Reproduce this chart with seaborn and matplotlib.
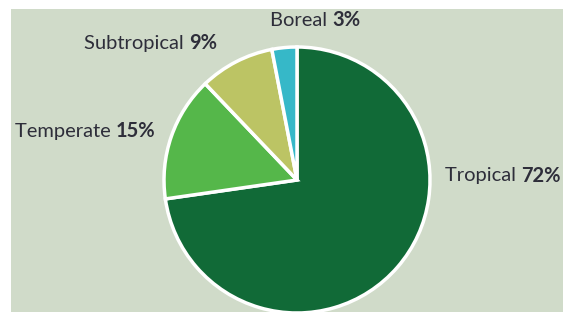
import matplotlib
matplotlib.use("Agg")
import matplotlib.pyplot as plt
import seaborn as sns
from matplotlib.patches import Rectangle

categories = ["Tropical", "Temperate", "Subtropical", "Boreal"]
values = [72, 15, 9, 3]
value_labels = ["72%", "15%", "9%", "3%"]
colors = ["#116a37", "#55b74a", "#bcc464", "#36b8c8"]

sns.set_theme(style="white")
plt.rcParams['font.family'] = ['Lato', 'DejaVu Sans']

W, H = 565, 312
fig = plt.figure(figsize=(W / 100, H / 100), dpi=100, facecolor="white")
ax = fig.add_axes([0, 0, 1, 1])
ax.set_xlim(0, W)
ax.set_ylim(0, H)
ax.set_aspect("equal")
ax.axis("off")

ax.add_patch(Rectangle((11, 0), 552, H - 9, facecolor="#d0dbc9", edgecolor="none", zorder=0))

palette = sns.color_palette(colors)
ax.pie(values, colors=palette, startangle=90, counterclock=False,
       center=(297, H - 180), radius=133,
       wedgeprops=dict(edgecolor="white", linewidth=2.5), frame=True)
ax.set_xlim(0, W)
ax.set_ylim(0, H)
ax.axis("off")

label_pos = {"Tropical": (445, H - 176), "Temperate": (15, H - 131),
             "Subtropical": (84, H - 43), "Boreal": (270, H - 20)}
txt_color = "#2e2e3a"
for cat, vl in zip(categories, value_labels):
    x, y = label_pos[cat]
    t1 = ax.text(x, y, cat + " ", fontsize=14.5, color=txt_color, va="center", ha="left")
    ax.annotate(vl, xy=(1, 0.5), xycoords=t1, va="center", ha="left",
                fontsize=14.5, fontweight="bold", color=txt_color)

fig.savefig("out.png", dpi=100, facecolor="white")
